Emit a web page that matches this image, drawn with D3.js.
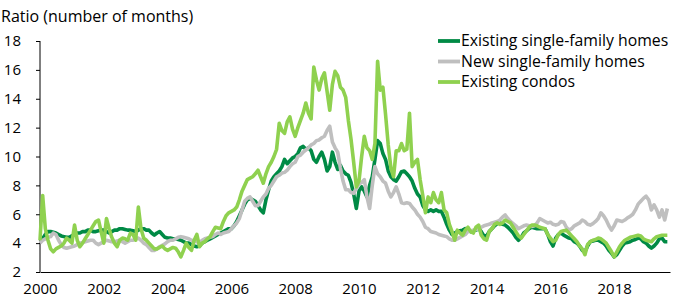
<!DOCTYPE html>
<html>
<head>
<meta charset="utf-8">
<style>
  body { margin: 0; background: #fff; }
  svg text { font-family: "Open Sans", "Noto Sans", sans-serif; fill: #000; }
</style>
<script src="https://cdn.jsdelivr.net/npm/d3@7"></script>
</head>
<body>
<svg width="673" height="299"></svg>
<script>
// monthly values, Jan 2000 onward
var existingSF = [
  4.2,4.3,4.6,4.8,4.8,4.75,4.7,4.6,4.5,4.45,4.4,4.4,
  4.5,4.6,4.7,4.7,4.8,4.8,4.9,4.9,4.8,4.8,4.85,4.9,
  4.9,4.8,4.7,4.8,4.9,4.9,5.0,5.0,4.95,4.9,4.9,4.85,
  4.8,4.9,5.0,5.0,4.9,4.9,4.7,4.55,4.7,4.8,4.6,4.4,
  4.35,4.35,4.3,4.3,4.25,4.2,4.1,4.0,4.0,3.9,3.8,3.75,
  3.8,4.0,4.1,4.2,4.3,4.4,4.5,4.6,4.7,4.8,4.9,5.0,
  5.0,5.2,5.5,5.9,6.3,6.7,7.0,7.1,7.0,6.9,6.6,6.3,
  6.1,7.0,7.7,8.3,8.6,8.8,9.0,9.3,9.8,9.5,9.7,9.9,
  10.0,10.2,10.6,10.7,10.5,10.6,10.4,9.8,9.6,10.0,10.3,9.8,
  9.0,9.3,10.3,9.6,9.1,9.4,9.0,8.8,8.7,8.2,7.4,6.4,
  7.6,7.9,7.6,7.2,8.0,8.6,9.8,11.1,10.9,10.2,9.8,9.0,
  8.6,8.4,8.3,8.6,8.95,9.0,8.8,8.6,8.3,7.8,7.4,7.2,
  6.6,6.3,6.2,6.3,6.2,6.3,6.2,6.2,5.8,5.3,4.9,4.6,
  4.7,4.8,4.85,4.9,5.0,4.9,4.8,4.85,4.9,5.0,4.8,4.5,
  4.5,4.8,5.0,5.2,5.35,5.4,5.3,5.25,5.1,4.9,4.7,4.4,
  4.2,4.4,4.7,4.85,5.0,5.1,5.05,5.0,5.0,5.0,5.0,4.6,
  4.1,3.8,4.35,4.6,4.7,4.55,4.45,4.35,4.3,4.1,4.0,3.8,
  3.5,3.4,3.8,4.1,4.15,4.2,4.2,4.1,4.0,3.8,3.5,3.3,
  3.05,3.2,3.5,3.8,4.0,4.05,4.1,4.2,4.25,4.35,4.3,4.1,
  4.0,3.8,3.65,3.8,4.0,4.3,4.35,4.1,4.1
];

var newSF = [
  4.0,4.2,4.3,4.4,4.45,4.7,4.6,4.2,3.9,3.7,3.65,3.7,
  3.75,3.8,3.9,4.0,4.05,4.1,4.15,4.2,4.2,4.0,3.9,4.0,
  4.1,4.2,4.15,4.1,4.1,4.15,4.2,4.1,4.0,4.1,4.2,4.2,
  4.3,4.35,4.2,4.0,3.9,3.7,3.5,3.5,3.6,3.75,3.85,3.95,
  4.1,4.2,4.2,4.3,4.4,4.45,4.4,4.35,4.3,4.2,4.15,4.1,
  4.0,4.2,4.3,4.35,4.4,4.45,4.6,4.7,4.6,4.7,4.75,4.8,
  5.0,5.2,5.4,5.7,6.3,6.9,7.1,7.2,6.9,6.6,6.6,6.9,
  7.2,7.4,7.8,8.0,8.3,8.6,8.7,8.85,8.9,9.05,9.3,9.5,
  9.6,10.0,10.1,10.3,10.45,10.6,10.8,10.9,11.1,11.15,11.3,11.4,
  11.8,12.1,11.0,10.6,10.3,9.2,8.3,7.7,7.7,7.5,7.45,7.8,
  8.1,8.2,8.4,7.2,6.4,8.0,9.3,8.8,8.6,8.3,8.15,7.6,
  7.2,7.5,7.9,7.4,6.8,6.75,6.8,6.75,6.5,6.3,6.0,5.8,
  5.5,5.1,5.0,4.8,4.75,4.7,4.6,4.55,4.5,4.45,4.3,4.2,
  4.2,4.3,4.4,4.5,4.6,4.8,4.85,4.9,4.95,5.0,5.1,5.2,
  5.25,5.3,5.4,5.45,5.5,5.6,5.8,5.95,5.7,5.5,5.35,5.2,
  5.0,5.1,5.2,5.25,5.2,5.15,5.2,5.4,5.7,5.6,5.5,5.4,
  5.45,5.3,5.25,5.3,5.5,5.45,5.1,4.9,5.0,5.2,5.3,5.4,
  5.6,5.5,5.3,5.25,5.35,5.5,5.7,6.1,5.9,5.6,5.2,4.9,
  5.2,5.6,5.55,5.5,5.6,5.75,5.85,6.0,6.3,6.7,6.9,7.1,
  7.25,7.0,6.3,6.65,6.3,5.8,6.3,5.6,6.4
];

var existingCondos = [
  4.2,7.3,5.0,4.2,3.6,3.4,3.6,3.7,3.8,4.0,4.35,4.2,
  4.0,5.25,4.2,3.75,4.0,4.3,4.6,4.9,5.2,5.5,5.6,4.8,
  4.0,5.7,5.0,4.4,4.0,3.75,4.2,4.35,4.3,4.2,4.7,4.6,
  4.2,6.5,5.0,4.35,4.2,4.0,3.8,3.6,3.6,3.7,3.8,3.6,
  3.5,3.6,3.7,3.65,3.4,3.05,3.5,4.0,3.7,3.5,4.2,4.6,
  3.75,4.0,4.1,4.3,4.45,4.8,5.1,5.05,5.0,5.5,5.9,6.1,
  6.2,6.3,6.5,7.0,7.6,8.0,8.4,8.5,8.6,8.8,9.05,8.6,
  8.15,8.8,9.3,9.6,10.0,10.5,12.3,11.8,11.6,12.4,12.75,11.9,
  11.4,12.0,12.5,13.0,13.7,13.0,12.6,16.2,15.3,14.6,15.4,15.8,
  14.5,13.2,15.0,15.9,15.6,14.8,14.6,14.1,12.5,11.2,9.6,7.9,
  8.3,10.0,11.4,10.6,10.4,9.8,10.9,16.6,14.6,14.8,12.9,10.8,
  9.2,8.6,10.4,10.4,10.9,10.4,10.5,13.0,9.3,9.6,9.8,8.4,
  7.3,6.1,7.2,6.8,7.5,7.0,6.8,7.5,6.3,6.1,5.3,4.8,
  4.2,4.9,4.7,4.55,4.9,5.1,4.8,4.7,5.1,5.25,4.55,4.3,
  4.2,4.8,5.0,5.3,5.4,5.3,5.4,5.6,5.5,5.4,5.1,4.8,
  4.5,4.35,4.6,4.85,5.1,5.25,5.25,5.2,5.1,5.05,5.0,4.6,
  4.35,4.1,4.2,4.6,4.8,4.85,4.9,4.7,4.5,4.3,4.1,3.8,
  3.6,3.2,3.9,4.1,4.2,4.25,4.35,4.3,4.15,4.0,3.7,3.4,
  3.05,3.4,3.75,4.0,4.2,4.3,4.4,4.45,4.5,4.55,4.5,4.3,
  4.2,4.15,4.1,4.3,4.45,4.5,4.55,4.55,4.55
];

var seriesNames = ["Existing single-family homes", "New single-family homes", "Existing condos"];
var seriesColors = ["#008a45", "#bfbfbf", "#8fd14f"];
var yTicks = [2, 4, 6, 8, 10, 12, 14, 16, 18];
var xTicks = [2000, 2002, 2004, 2006, 2008, 2010, 2012, 2014, 2016, 2018];
var startYear = 2000;

var svg = d3.select("svg");

var x = d3.scaleLinear().domain([2000, 2019.75]).range([40, 670]);
var y = d3.scaleLinear().domain([2, 18]).range([272, 41]);

svg.append("text")
   .attr("x", 1)
   .attr("y", 22)
   .attr("font-size", "16px")
   .text("Ratio (number of months)");

// y axis
var yAxis = svg.append("g")
   .attr("transform", "translate(40,0)")
   .call(d3.axisLeft(y).tickValues(yTicks).tickSize(4).tickPadding(15));
yAxis.select(".domain").attr("stroke", "#000").attr("d", "M0," + y(18) + "V" + y(2));
yAxis.selectAll("text").attr("font-size", "15px").attr("font-family", null);

// x axis
var xAxis = svg.append("g")
   .attr("transform", "translate(0,272)")
   .call(d3.axisBottom(x).tickValues(xTicks).tickSize(0).tickPadding(11).tickFormat(d3.format("d")));
xAxis.select(".domain").attr("stroke", "#000");
xAxis.selectAll("text").attr("font-size", "15px").attr("font-family", null);

var line = d3.line()
   .x(function(d, i) { return x(startYear + i / 12); })
   .y(function(d) { return y(d); });

var allSeries = [existingSF, newSF, existingCondos];
allSeries.forEach(function(s, k) {
  svg.append("path")
     .datum(s)
     .attr("fill", "none")
     .attr("stroke", seriesColors[k])
     .attr("stroke-width", 3.6)
     .attr("stroke-linejoin", "round")
     .attr("d", line);
});

// legend
var legend = svg.append("g");
seriesNames.forEach(function(name, k) {
  var ly = 41 + k * 20.5;
  legend.append("line")
     .attr("x1", 438).attr("x2", 460)
     .attr("y1", ly).attr("y2", ly)
     .attr("stroke", seriesColors[k])
     .attr("stroke-width", 3.8);
  legend.append("text")
     .attr("x", 461)
     .attr("y", ly + 5)
     .attr("font-size", "15.8px")
     .text(name);
});
</script>
</body>
</html>
